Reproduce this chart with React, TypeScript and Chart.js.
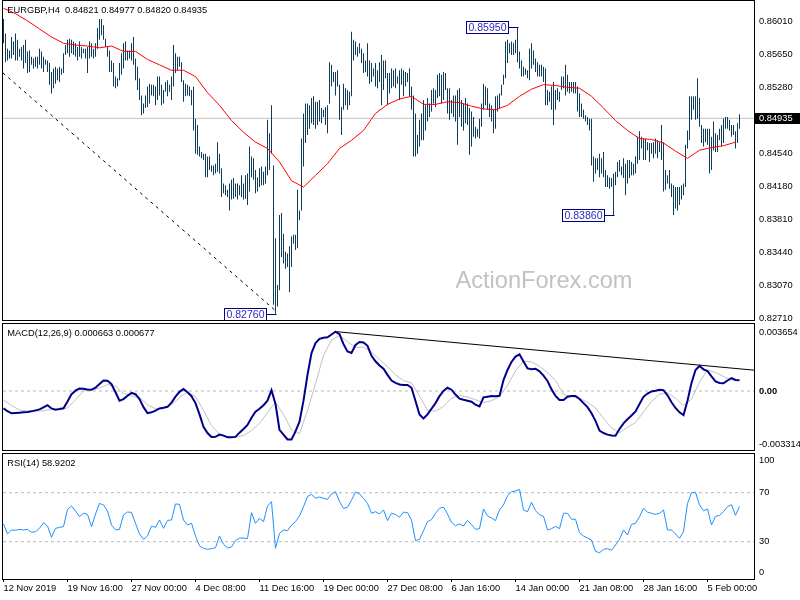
import React, { useEffect, useRef } from "react";
import { Chart, registerables } from "chart.js";

Chart.register(...registerables);

// ---------------- data ----------------
const symbolTitle = "EURGBP,H4  0.84821 0.84977 0.84820 0.84935";
const macdTitle = "MACD(12,26,9) 0.000663 0.000677";
const rsiTitle = "RSI(14) 58.9202";
const watermarkText = "ActionForex.com";
const lastPrice = 0.84935;

const timeLabels = [
  "12 Nov 2019", "19 Nov 16:00", "27 Nov 00:00", "4 Dec 08:00", "11 Dec 16:00", "19 Dec 00:00",
  "27 Dec 08:00", "6 Jan 16:00", "14 Jan 00:00", "21 Jan 08:00", "28 Jan 16:00", "5 Feb 00:00",
];
const barsPerLabel = 32;

// H4 bar highs / lows in units of 0.0001
const barHighPips = [
  8604, 8588, 8571, 8569, 8584, 8579, 8588, 8581, 8571, 8573,
  8575, 8581, 8568, 8569, 8562, 8560, 8562, 8562, 8571, 8568,
  8562, 8559, 8558, 8555, 8545, 8549, 8551, 8549, 8551, 8549,
  8566, 8575, 8581, 8582, 8581, 8579, 8577, 8573, 8579, 8573,
  8571, 8571, 8573, 8579, 8577, 8571, 8577, 8594, 8604, 8604,
  8597, 8582, 8573, 8569, 8558, 8555, 8540, 8538, 8555, 8566,
  8577, 8579, 8569, 8569, 8577, 8584, 8560, 8551, 8538, 8519,
  8510, 8519, 8529, 8532, 8531, 8531, 8529, 8540, 8540, 8531,
  8525, 8534, 8536, 8531, 8540, 8575, 8566, 8562, 8562, 8556,
  8536, 8532, 8531, 8529, 8525, 8529, 8493, 8486, 8462, 8456,
  8454, 8454, 8451, 8451, 8441, 8441, 8443, 8467, 8454, 8438,
  8421, 8419, 8414, 8421, 8425, 8427, 8421, 8421, 8419, 8430,
  8421, 8430, 8432, 8462, 8451, 8449, 8436, 8428, 8438, 8440,
  8434, 8440, 8492, 8477, 8508, 8441, 8360, 8308, 8386, 8388,
  8365, 8345, 8343, 8351, 8362, 8364, 8364, 8414, 8391, 8471,
  8499, 8510, 8510, 8508, 8516, 8518, 8512, 8512, 8514, 8505,
  8503, 8506, 8508, 8556, 8553, 8545, 8545, 8547, 8531, 8506,
  8532, 8527, 8525, 8523, 8590, 8581, 8579, 8573, 8577, 8571,
  8566, 8558, 8577, 8558, 8555, 8549, 8555, 8547,
  8556, 8564, 8558, 8558, 8544, 8544, 8549, 8547, 8549, 8540,
  8547, 8549, 8547, 8545, 8544, 8549, 8529, 8519, 8499, 8475,
  8492, 8499, 8514, 8508, 8516, 8510, 8525, 8527, 8525, 8542,
  8544, 8542, 8545, 8544, 8527, 8527, 8514, 8519, 8519, 8525,
  8527, 8514, 8510, 8516, 8510, 8505, 8501, 8495, 8484, 8482,
  8493, 8510, 8532, 8529, 8527, 8510, 8508, 8503, 8518, 8519,
  8521, 8531, 8542, 8579, 8581, 8577, 8579, 8577, 8581, 8595,
  8568, 8558, 8551, 8549, 8547, 8571, 8577, 8569, 8560, 8556,
  8553, 8553, 8551, 8549, 8525, 8523, 8529, 8534, 8525, 8527,
  8523, 8540, 8540, 8553, 8542, 8534, 8534, 8534, 8534, 8529,
  8521, 8510, 8503, 8497, 8495, 8493, 8493, 8451, 8449, 8449,
  8454, 8449, 8456, 8436, 8430, 8428, 8427, 8432, 8434, 8445,
  8447, 8440, 8449, 8443, 8447, 8447, 8445, 8443, 8451, 8473,
  8479, 8473, 8471, 8471, 8467, 8466, 8466, 8467, 8471, 8469,
  8467, 8486, 8467, 8436, 8430, 8436, 8421, 8419, 8417, 8417,
  8417, 8419, 8421, 8464, 8480, 8518, 8518, 8518, 8518, 8538,
  8516, 8486, 8482, 8482, 8482, 8482, 8473, 8490, 8477, 8475,
  8482, 8486, 8493, 8495, 8495, 8492, 8486, 8486, 8479, 8488, 8498,
];
const barLowPips = [
  8577, 8556, 8558, 8560, 8560, 8564, 8558, 8558, 8562, 8558,
  8549, 8555, 8544, 8545, 8553, 8549, 8551, 8549, 8553, 8549,
  8545, 8553, 8545, 8531, 8521, 8527, 8532, 8536, 8534, 8542,
  8544, 8564, 8566, 8562, 8566, 8564, 8562, 8558, 8562, 8560,
  8566, 8560, 8544, 8560, 8562, 8560, 8562, 8571, 8581, 8586,
  8581, 8573, 8562, 8545, 8545, 8529, 8527, 8529, 8536, 8542,
  8549, 8558, 8558, 8560, 8558, 8553, 8536, 8525, 8514, 8497,
  8499, 8505, 8506, 8510, 8519, 8518, 8508, 8514, 8519, 8508,
  8510, 8523, 8518, 8523, 8514, 8529, 8544, 8547, 8551, 8534,
  8512, 8518, 8519, 8518, 8508, 8480, 8454, 8453, 8451, 8449,
  8447, 8428, 8428, 8436, 8434, 8430, 8432, 8434, 8432, 8406,
  8410, 8408, 8406, 8391, 8403, 8404, 8406, 8403, 8408, 8406,
  8403, 8404, 8397, 8412, 8428, 8425, 8410, 8412, 8417, 8419,
  8419, 8421, 8430, 8436, 8454, 8286, 8276, 8284, 8302, 8339,
  8332, 8326, 8328, 8300, 8328, 8354, 8347, 8349, 8380, 8391,
  8440, 8466, 8475, 8482, 8488, 8486, 8482, 8486, 8490, 8488,
  8495, 8486, 8477, 8510, 8529, 8534, 8519, 8529, 8492, 8475,
  8503, 8508, 8503, 8508, 8518, 8558, 8564, 8562, 8566, 8555,
  8544, 8545, 8540, 8532, 8534, 8540, 8529, 8527,
  8534, 8508, 8525, 8538, 8508, 8521, 8527, 8529, 8527, 8532,
  8514, 8531, 8518, 8529, 8534, 8518, 8503, 8451, 8451, 8454,
  8462, 8469, 8469, 8480, 8490, 8495, 8501, 8510, 8506, 8516,
  8518, 8510, 8514, 8525, 8499, 8492, 8499, 8495, 8490, 8464,
  8495, 8484, 8480, 8488, 8486, 8453, 8462, 8473, 8471, 8473,
  8471, 8484, 8503, 8508, 8503, 8495, 8490, 8477, 8482, 8501,
  8505, 8519, 8531, 8538, 8555, 8566, 8564, 8564, 8566, 8556,
  8549, 8540, 8540, 8542, 8538, 8536, 8549, 8553, 8545, 8540,
  8540, 8540, 8534, 8508, 8508, 8512, 8503, 8486, 8503, 8514,
  8512, 8525, 8527, 8519, 8523, 8521, 8523, 8521, 8521, 8501,
  8495, 8495, 8493, 8490, 8486, 8480, 8441, 8423, 8432, 8436,
  8428, 8432, 8428, 8417, 8417, 8415, 8417, 8386, 8419, 8428,
  8434, 8430, 8427, 8408, 8421, 8427, 8430, 8430, 8432, 8443,
  8447, 8460, 8447, 8447, 8458, 8445, 8454, 8449, 8454, 8449,
  8456, 8447, 8412, 8414, 8421, 8415, 8406, 8386, 8393, 8391,
  8397, 8403, 8408, 8417, 8460, 8469, 8492, 8503, 8492, 8493,
  8484, 8466, 8462, 8467, 8464, 8432, 8436, 8458, 8456, 8456,
  8469, 8462, 8466, 8482, 8482, 8480, 8473, 8475, 8460, 8466, 8482,
];

// moving average, one value every 6 bars, units of 0.0001
const maStep = 6;
const maPips = [
  8616, 8610, 8602, 8593, 8584, 8577, 8575, 8574, 8572, 8574,
  8568, 8568, 8559, 8553, 8547, 8547, 8540, 8522, 8508, 8491,
  8478, 8467, 8460, 8445, 8424, 8417, 8430, 8443, 8460, 8469,
  8480, 8499, 8509, 8515, 8518, 8509, 8509, 8512, 8511, 8507,
  8504, 8503, 8508, 8518, 8526, 8531, 8530, 8528, 8527, 8518,
  8505, 8491, 8480, 8471, 8470, 8466, 8457, 8449, 8458, 8461,
  8463, 8467,
];

// MACD main, one value every 2 bars, units of 0.0001
const macdStep = 2;
const macdE4 = [
  -10.7, -12.5, -13.8, -13.6, -13.4, -13.2, -13.0, -12.6, -12.0, -11.4,
  -10.2, -8.8, -10.8, -11.6, -11.2, -10.7, -6.5, -2.0, 0.2, 1.5,
  1.4, 1.0, 0.8, 2.0, 4.3, 6.5, 6.3, 4.2, -0.8, -6.0,
  -5.0, -2.9, -1.2, -2.0, -5.0, -10.0, -13.7, -13.2, -12.2, -10.8,
  -10.4, -9.8, -7.2, -3.5, -0.5, 1.2, -0.8, -3.2, -7.5, -14.5,
  -22.1, -26.0, -28.5, -28.4, -27.0, -27.6, -28.7, -28.7, -28.4, -25.8,
  -23.5, -21.0, -16.5, -12.8, -11.0, -8.8, -6.0, 0.5, -8.0, -24.0,
  -27.0, -30.0, -30.0, -25.0, -19.0, -6.0, 10.0, 23.5, 29.7, 32.3,
  33.0, 33.3, 35.0, 36.7, 35.2, 29.0, 24.5, 23.5, 28.5, 30.3,
  30.0, 28.0, 21.8, 18.4, 15.8, 13.8, 10.0, 6.5, 5.0, 4.0,
  3.7, 3.7, 2.0, -6.2, -14.5, -17.0, -14.5, -11.0, -7.5, -3.2,
  0.0, 2.0, 0.8, -2.2, -4.7, -5.4, -6.0, -6.6, -8.5, -9.5,
  -3.9, -3.5, -3.1, -3.3, -3.0, 6.8, 13.0, 18.0, 21.3, 22.7,
  18.2, 14.0, 13.5, 13.8, 12.2, 9.5, 6.2, 1.0, -3.0, -5.6,
  -5.6, -3.5, -3.1, -3.1, -5.0, -7.5, -10.0, -13.8, -18.5, -24.5,
  -26.0, -27.0, -27.5, -27.7, -23.5, -20.0, -17.5, -15.2, -12.6, -8.0,
  -3.6, -1.6, -0.3, 0.1, 0.7, 0.5, -2.7, -7.0, -10.5, -13.2,
  -14.9, -6.0, 5.0, 13.0, 15.5, 13.4, 12.3, 9.0, 6.0, 5.0,
  4.8, 6.5, 8.0, 6.8, 6.6,
];

// MACD signal, one value every 4 bars, units of 0.0001
const signalStep = 4;
const signalE4 = [
  -5.6, -9.0, -11.7, -12.5, -12.6, -12.2, -11.5, -11.3, -10.5, -5.5,
  0.0, 0.7, 1.8, 4.0, 3.0, -1.5, -3.2, -4.0, -8.5, -11.0,
  -10.8, -8.5, -4.0, -0.6, -3.5, -12.0, -21.5, -26.8, -28.0, -28.6,
  -27.5, -24.5, -20.0, -13.5, -7.0, -14.5, -24.0, -26.5, -12.0, 4.5,
  22.0, 31.5, 34.5, 30.5, 27.0, 27.2, 24.0, 19.5, 15.0, 10.0,
  6.5, 5.0, -3.0, -12.0, -12.5, -9.5, -4.5, -2.8, -3.8, -5.4,
  -7.2, -6.0, -3.5, 3.5, 12.5, 18.5, 18.0, 15.3, 11.5, 6.5,
  -2.0, -3.5, -4.5, -7.0, -10.5, -17.0, -22.8, -25.8, -22.5, -19.5,
  -13.0, -6.5, -2.0, -1.0, -4.5, -9.0, -5.0, 5.5, 13.0, 11.5,
  9.0, 6.8, 6.8,
];

// RSI(14), one value every 2 bars
const rsiStep = 2;
const rsiValues = [
  44.5, 36.3, 39.6, 39.3, 40.1, 39.6, 40.1, 37.7, 38.2, 40.9,
  45.5, 42.8, 33.6, 40.9, 41.7, 42.3, 56.4, 59.1, 55.1, 50.4,
  53.2, 52.3, 42.3, 52.6, 61.3, 60.0, 55.1, 43.6, 39.6, 40.1,
  51.8, 54.2, 54.0, 45.0, 36.3, 31.9, 34.7, 42.8, 41.7, 47.7,
  40.9, 47.4, 47.7, 60.8, 60.5, 47.7, 43.6, 45.0, 34.7, 26.5,
  24.6, 23.8, 24.3, 25.1, 34.7, 27.9, 24.9, 25.7, 30.9, 33.0,
  33.0, 32.5, 53.7, 45.0, 49.1, 46.4, 59.1, 62.7, 24.6, 36.8,
  39.6, 39.0, 43.6, 46.4, 51.0, 58.6, 66.8, 68.7, 65.4, 66.5,
  65.4, 64.6, 69.0, 70.8, 62.7, 57.2, 58.1, 64.0, 70.6, 69.0,
  65.4, 61.3, 53.2, 54.5, 52.6, 55.9, 47.2, 53.2, 52.3, 49.9,
  54.2, 53.7, 47.7, 30.9, 31.9, 39.0, 46.4, 48.0, 53.2, 57.2,
  58.3, 52.6, 45.8, 43.1, 44.5, 42.8, 47.4, 43.9, 40.1, 40.6,
  56.7, 51.0, 49.4, 47.2, 55.9, 60.0, 67.6, 70.8, 71.4, 72.7,
  55.9, 54.5, 62.1, 55.3, 52.1, 50.7, 39.6, 40.6, 42.5, 40.6,
  53.2, 53.2, 48.3, 48.3, 37.4, 34.7, 33.0, 31.4, 22.1, 21.0,
  23.8, 24.3, 23.0, 27.3, 31.9, 39.6, 35.5, 44.2, 45.0, 50.4,
  57.2, 54.2, 53.2, 52.3, 53.2, 55.9, 39.6, 39.6, 36.3, 32.8,
  38.2, 61.3, 70.0, 70.3, 60.0, 55.3, 56.7, 43.6, 50.7, 51.5,
  54.5, 58.6, 60.2, 51.5, 58.9,
];

const priceTicks = [0.8601, 0.8565, 0.8528, 0.8454, 0.8418, 0.8381, 0.8344, 0.8307, 0.8271];
const macdTicks = [0.003654, 0, -0.003314];
const rsiLevels = [70, 30];
const rsiBounds = [100, 0];

// labelled swing points (bar index, price)
const priceMarks = [
  { bar: 136, price: 0.8276 },
  { bar: 257, price: 0.8595 },
  { bar: 305, price: 0.8386 },
];
// hand-drawn trend lines (bar index, value)
const priceTrendBars = [-0.25, 136.7];
const priceTrendValues = [0.8544, 0.8278];
const macdTrendBars = [166.6, 375.25];
const macdTrendValues = [0.00367, 0.00129];

// ---------------- styling / layout ----------------
const X_MIN = -0.25;
const X_MAX = 375.25;
const FONT = "'Liberation Sans', Arial, sans-serif";
const FS = 9.3;
const BAR_COLOR = "#0e3c5a";
const BOX_BLUE = "#000080";
const BOX_TEXT = "#2b2bc4";

Chart.defaults.font.family = FONT;
Chart.defaults.font.size = FS;
Chart.defaults.color = "#000";

const framePlugin = {
  id: "frame",
  afterDraw(chart: any) {
    const { ctx, chartArea: a } = chart;
    ctx.save();
    ctx.strokeStyle = "#000";
    ctx.lineWidth = 1;
    ctx.strokeRect(a.left - 0.5, a.top - 0.5, a.right - a.left + 1, a.bottom - a.top + 1);
    ctx.restore();
  },
};

function titlePlugin(text: string) {
  return {
    id: "panelTitle",
    afterDraw(chart: any) {
      const { ctx, chartArea: a } = chart;
      ctx.save();
      ctx.font = `${FS}px ${FONT}`;
      ctx.fillStyle = "#000";
      ctx.textBaseline = "middle";
      ctx.textAlign = "left";
      ctx.fillText(text, a.left + 4.3, a.top + 9.7);
      ctx.restore();
    },
  };
}

const mainDecor = {
  id: "mainDecor",
  beforeDatasetsDraw(chart: any) {
    const { ctx, chartArea: a } = chart;
    ctx.save();
    ctx.font = `23.6px ${FONT}`;
    ctx.fillStyle = "#c2c2c2";
    ctx.textBaseline = "alphabetic";
    ctx.textAlign = "left";
    ctx.fillText(watermarkText, a.left + 452.5, a.top + 287.3);
    ctx.restore();
  },
  afterDatasetsDraw(chart: any) {
    const { ctx } = chart;
    const xs = chart.scales.x;
    const ys = chart.scales.y;
    ctx.save();
    ctx.font = `10.5px ${FONT}`;
    priceMarks.forEach((m) => {
      const px = Math.round(xs.getPixelForValue(m.bar));
      const py = Math.round(ys.getPixelForValue(m.price));
      const right = px - 10;
      const left = right - 42;
      const top = py - 6;
      ctx.fillStyle = "#fff";
      ctx.fillRect(left, top, 42, 12);
      ctx.strokeStyle = BOX_BLUE;
      ctx.lineWidth = 1;
      ctx.strokeRect(left + 0.5, top + 0.5, 42, 12);
      ctx.beginPath();
      ctx.moveTo(right + 0.5, py + 0.5);
      ctx.lineTo(px + 0.5, py + 0.5);
      ctx.stroke();
      ctx.fillStyle = BOX_TEXT;
      ctx.textAlign = "center";
      ctx.textBaseline = "middle";
      ctx.fillText(m.price.toFixed(5), left + 21.5, py + 1);
    });
    ctx.restore();
  },
  afterDraw(chart: any) {
    const { ctx, chartArea: a } = chart;
    const ys = chart.scales.y;
    const py = ys.getPixelForValue(lastPrice);
    ctx.save();
    ctx.fillStyle = "#000";
    ctx.fillRect(a.right + 1, Math.round(py) - 5, 46, 11);
    ctx.fillStyle = "#fff";
    ctx.font = `${FS}px ${FONT}`;
    ctx.textBaseline = "middle";
    ctx.textAlign = "left";
    ctx.fillText(lastPrice.toFixed(5), a.right + 5, Math.round(py) + 0.5);
    ctx.restore();
  },
};

const rsiBoundsPlugin = {
  id: "rsiBounds",
  afterDraw(chart: any) {
    const { ctx, chartArea: a } = chart;
    const ys = chart.scales.y;
    ctx.save();
    ctx.font = `${FS}px ${FONT}`;
    ctx.fillStyle = "#000";
    ctx.textBaseline = "middle";
    ctx.textAlign = "left";
    const yTop = Math.max(a.top + 6.7, ys.getPixelForValue(rsiBounds[0]));
    const yBot = Math.min(a.bottom - 6.3, ys.getPixelForValue(rsiBounds[1]));
    ctx.fillText(String(rsiBounds[0]), a.right + 5, yTop);
    ctx.fillText(String(rsiBounds[1]), a.right + 5, yBot);
    ctx.restore();
  },
};

function hiddenX() {
  return { type: "linear", min: X_MIN, max: X_MAX, display: false, offset: false, grid: { offset: false } };
}

function rightAxis(min: number, max: number, ticks: number[], fmt: (v: number) => string, bold?: (v: number) => boolean) {
  return {
    type: "linear",
    position: "right",
    min,
    max,
    beginAtZero: false,
    afterFit: (s: any) => {
      s.width = 46;
      s.paddingTop = 0;
      s.paddingBottom = 0;
    },
    afterBuildTicks: (s: any) => {
      s.ticks = ticks.map((v) => ({ value: v }));
    },
    ticks: {
      autoSkip: false,
      padding: 5,
      color: "#000",
      callback: (v: any) => fmt(Number(v)),
      font: (c: any) => ({ family: FONT, size: FS, weight: bold && c.tick && bold(c.tick.value) ? "bold" : "normal" }),
    },
    grid: { display: false, drawTicks: false },
    border: { display: false },
  };
}

function flatLine(value: number, color: string, dash: number[], order: number) {
  return {
    type: "line",
    data: [
      { x: X_MIN, y: value },
      { x: X_MAX, y: value },
    ],
    borderColor: color,
    borderWidth: 1,
    borderDash: dash,
    pointRadius: 0,
    order,
  };
}

const common = {
  responsive: false,
  animation: false,
  events: [],
  plugins: { legend: { display: false }, tooltip: { enabled: false }, title: { display: false } },
};

export default function App() {
  const mainRef = useRef<HTMLCanvasElement>(null);
  const macdRef = useRef<HTMLCanvasElement>(null);
  const rsiRef = useRef<HTMLCanvasElement>(null);

  useEffect(() => {
    const barData = barHighPips.map((h, i) => ({ x: i, y: [barLowPips[i] / 10000, h / 10000] }));
    const maData = maPips.map((v, k) => ({ x: k * maStep, y: v / 10000 }));
    const trendData = priceTrendBars.map((b, k) => ({ x: b, y: priceTrendValues[k] }));

    const main = new Chart(mainRef.current as HTMLCanvasElement, {
      type: "bar",
      data: {
        datasets: [
          flatLine(lastPrice, "#c0c0c0", [], 5) as any,
          {
            type: "bar",
            data: barData as any,
            backgroundColor: BAR_COLOR,
            barThickness: 1,
            inflateAmount: 0,
            borderWidth: 0,
            grouped: false,
            order: 4,
          },
          {
            type: "line",
            data: trendData,
            borderColor: "#000",
            borderWidth: 1,
            borderDash: [3, 4],
            pointRadius: 0,
            order: 2,
          },
          {
            type: "line",
            data: maData,
            borderColor: "#ff0000",
            borderWidth: 1,
            pointRadius: 0,
            order: 1,
          },
        ],
      },
      options: {
        ...common,
        layout: { padding: { left: 3, top: 1, bottom: 2, right: 0 } },
        scales: {
          x: hiddenX() as any,
          y: rightAxis(0.8269, 0.86241, priceTicks, (v) => v.toFixed(5)) as any,
        },
      } as any,
      plugins: [framePlugin, titlePlugin(symbolTitle), mainDecor],
    });

    const macdData = macdE4.map((v, k) => ({ x: k * macdStep, y: v / 10000 }));
    const signalData = signalE4.map((v, k) => ({ x: k * signalStep, y: v / 10000 }));
    const macdTrend = macdTrendBars.map((b, k) => ({ x: b, y: macdTrendValues[k] }));

    const macd = new Chart(macdRef.current as HTMLCanvasElement, {
      type: "line",
      data: {
        datasets: [
          flatLine(0, "#b8b8b8", [3, 3], 5) as any,
          { data: signalData, borderColor: "#c0c0c0", borderWidth: 1, pointRadius: 0, order: 4 },
          { data: macdTrend, borderColor: "#000", borderWidth: 1, pointRadius: 0, order: 3 },
          { data: macdData, borderColor: "#00008b", borderWidth: 2, pointRadius: 0, order: 1 },
        ],
      },
      options: {
        ...common,
        layout: { padding: { left: 3, top: 2, bottom: 2, right: 0 } },
        scales: {
          x: hiddenX() as any,
          y: rightAxis(-0.003652, 0.004147, macdTicks, (v) => (v === 0 ? "0.00" : v.toFixed(6)), (v) => v === 0) as any,
        },
      } as any,
      plugins: [framePlugin, titlePlugin(macdTitle)],
    });

    const rsiData = rsiValues.map((v, k) => ({ x: k * rsiStep, y: v }));

    const rsi = new Chart(rsiRef.current as HTMLCanvasElement, {
      type: "line",
      data: {
        datasets: [
          flatLine(rsiLevels[0], "#b8b8b8", [3, 3], 5) as any,
          flatLine(rsiLevels[1], "#b8b8b8", [3, 3], 5) as any,
          { data: rsiData, borderColor: "#1e90ff", borderWidth: 1, pointRadius: 0, order: 1 },
        ],
      },
      options: {
        ...common,
        layout: { padding: { left: 3, top: 2, bottom: 0, right: 0 } },
        scales: {
          x: {
            type: "linear",
            min: X_MIN,
            max: X_MAX,
            offset: false,
            afterFit: (s: any) => {
              s.height = 21;
              s.paddingLeft = 0;
              s.paddingRight = 0;
            },
            afterBuildTicks: (s: any) => {
              s.ticks = timeLabels.map((_, k) => ({ value: k * barsPerLabel }));
            },
            ticks: {
              autoSkip: false,
              maxRotation: 0,
              minRotation: 0,
              align: "start",
              padding: 1,
              color: "#000",
              font: { family: FONT, size: FS },
              callback: (_v: any, i: number) => timeLabels[i],
            },
            grid: { display: true, drawOnChartArea: false, drawTicks: true, tickLength: 3, color: "#000", offset: false },
            border: { display: false },
          } as any,
          y: rightAxis(-0.45, 101.6, rsiLevels, (v) => String(v)) as any,
        },
      } as any,
      plugins: [framePlugin, titlePlugin(rsiTitle), rsiBoundsPlugin],
    });

    return () => {
      main.destroy();
      macd.destroy();
      rsi.destroy();
    };
  }, []);

  return (
    <div style={{ position: "fixed", left: 0, top: 0, width: 800, height: 600, background: "#fff", overflow: "hidden" }}>
      <canvas ref={mainRef} width={800} height={322} style={{ position: "absolute", left: 0, top: 0 }} />
      <canvas ref={macdRef} width={800} height={130} style={{ position: "absolute", left: 0, top: 322 }} />
      <canvas ref={rsiRef} width={800} height={148} style={{ position: "absolute", left: 0, top: 452 }} />
    </div>
  );
}
